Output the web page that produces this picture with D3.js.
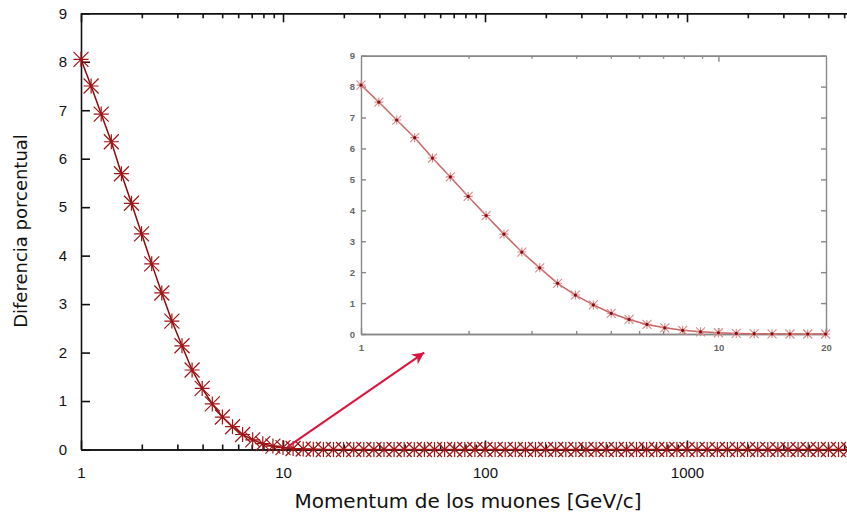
<!DOCTYPE html>
<html>
<head>
<meta charset="utf-8">
<script src="https://cdn.jsdelivr.net/npm/d3@7"></script>
<style>
  body { margin: 0; background: #fff; }
  svg { display: block; font-family: "DejaVu Sans", sans-serif; }
  .main .tick text { font-size: 15px; fill: #111; }
  .main .domain, .main .tick line { stroke: #111; stroke-width: 1.6; }
  .inset .tick text { font-size: 9.5px; font-weight: bold; fill: #666; }
  .inset .domain, .inset .tick line { stroke: #888; stroke-width: 1.4; }
</style>
</head>
<body>
<div id="chart"></div>
<script>
// momentum (GeV/c), 20 points per decade
var momentum = [1, 1.122, 1.259, 1.413, 1.585, 1.778, 1.995, 2.239, 2.512, 2.818,
  3.162, 3.548, 3.981, 4.467, 5.012, 5.623, 6.310, 7.079, 7.943, 8.913,
  10, 11.22, 12.59, 14.13, 15.85, 17.78, 19.95, 22.39, 25.12, 28.18,
  31.62, 35.48, 39.81, 44.67, 50.12, 56.23, 63.10, 70.79, 79.43, 89.13,
  100, 112.2, 125.9, 141.3, 158.5, 177.8, 199.5, 223.9, 251.2, 281.8,
  316.2, 354.8, 398.1, 446.7, 501.2, 562.3, 631.0, 707.9, 794.3, 891.3,
  1000, 1122, 1259, 1413, 1585, 1778, 1995, 2239, 2512, 2818,
  3162, 3548, 3981, 4467, 5012, 5623, 6310];
// diferencia porcentual (%)
var diff = [8.05, 7.50, 6.92, 6.35, 5.69, 5.08, 4.45, 3.83, 3.23, 2.65,
  2.14, 1.64, 1.26, 0.94, 0.67, 0.47, 0.31, 0.20, 0.12, 0.07,
  0.04, 0.02, 0.01, 0.005, 0, 0, 0, 0, 0, 0,
  0, 0, 0, 0, 0, 0, 0, 0, 0, 0,
  0, 0, 0, 0, 0, 0, 0, 0, 0, 0,
  0, 0, 0, 0, 0, 0, 0, 0, 0, 0,
  0, 0, 0, 0, 0, 0, 0, 0, 0, 0,
  0, 0, 0, 0, 0, 0, 0];
var xMajor = [1, 10, 100, 1000];
var yTicks = [0, 1, 2, 3, 4, 5, 6, 7, 8, 9];
var insetXLabels = [1, 10, 20];
var xTitle = 'Momentum de los muones [GeV/c]';
var yTitle = 'Diferencia porcentual';
// arrow from the zoomed region to the inset
var arrowFrom = [10.5, 0.05], arrowTo = [50, 2];

var width = 847, height = 520;
var pts = momentum.map(function(m, i) { return { x: m, y: diff[i] }; });

var minors = [];
xMajor.forEach(function(d) {
  for (var k = 2; k <= 9; k++) minors.push(d * k);
});

var svg = d3.select('#chart').append('svg')
  .attr('width', width)
  .attr('height', height);

// ---- main plot
var x = d3.scaleLog().domain([1, 7000]).range([81, 81 + 202 * Math.log10(7000)]);
var y = d3.scaleLinear().domain([0, 9]).range([449.5, 13.3]);

var main = svg.append('g').attr('class', 'main');

function star(s) {
  return 'M' + (-s) + ',0H' + s + 'M0,' + (-s) + 'V' + s +
    'M' + (-s) + ',' + (-s) + 'L' + s + ',' + s +
    'M' + (-s) + ',' + s + 'L' + s + ',' + (-s);
}

function xAxes(g, sx, sy, major, minor, labels, bigTick, smallTick, pad, top) {
  var inRange = minor.filter(function(d) { return d < sx.domain()[1]; });
  g.append('g')
    .attr('transform', 'translate(0,' + sy.range()[0] + ')')
    .call(d3.axisBottom(sx).tickValues(inRange)
      .tickSize(-smallTick).tickSizeOuter(0).tickFormat(''));
  g.append('g')
    .attr('transform', 'translate(0,' + sy.range()[0] + ')')
    .call(d3.axisBottom(sx).tickValues(major).tickSize(-bigTick).tickSizeOuter(0)
      .tickPadding(pad).tickFormat(function(d) { return labels.indexOf(d) >= 0 ? d : ''; }));
  g.append('g')
    .attr('transform', 'translate(0,' + sy.range()[1] + ')')
    .call(d3.axisTop(sx).tickValues(inRange)
      .tickSize(-smallTick).tickSizeOuter(0).tickFormat(''));
  g.append('g')
    .attr('transform', 'translate(0,' + sy.range()[1] + ')')
    .call(d3.axisTop(sx).tickValues(major.filter(function(d) { return top.indexOf(d) >= 0; }))
      .tickSize(-bigTick).tickSizeOuter(0).tickFormat(''));
}

xAxes(main, x, y, xMajor, minors, xMajor, 9, 5, 18, xMajor);

main.append('g')
  .attr('transform', 'translate(' + x.range()[0] + ',0)')
  .call(d3.axisLeft(y).tickValues(yTicks).tickSize(-9).tickSizeOuter(0).tickPadding(14));

main.append('g')
  .attr('transform', 'translate(' + x.range()[1] + ',0)')
  .call(d3.axisRight(y).tickValues(yTicks).tickSize(-10).tickSizeOuter(0).tickFormat(''));

var line = d3.line()
  .x(function(d) { return x(d.x); })
  .y(function(d) { return y(d.y); });

main.append('path')
  .attr('d', line(pts))
  .attr('fill', 'none')
  .attr('stroke', '#8b0a0a')
  .attr('stroke-width', 1.5);

main.selectAll('path.pt').data(pts).enter().append('path')
  .attr('class', 'pt')
  .attr('transform', function(d) { return 'translate(' + x(d.x) + ',' + y(d.y) + ')'; })
  .attr('d', star(7.5))
  .attr('fill', 'none')
  .attr('stroke', '#a01515')
  .attr('stroke-width', 1.2);

main.append('text')
  .attr('x', 468).attr('y', 508)
  .attr('text-anchor', 'middle')
  .attr('font-size', 20)
  .attr('fill', '#111')
  .text(xTitle);

main.append('text')
  .attr('transform', 'translate(27,231) rotate(-90)')
  .attr('text-anchor', 'middle')
  .attr('font-size', 18)
  .attr('fill', '#111')
  .text(yTitle);

// ---- arrow
var defs = svg.append('defs');
defs.append('marker')
  .attr('id', 'head')
  .attr('viewBox', '0 0 10 10')
  .attr('refX', 10).attr('refY', 5)
  .attr('markerWidth', 7).attr('markerHeight', 6)
  .attr('markerUnits', 'strokeWidth')
  .attr('orient', 'auto')
  .append('path')
  .attr('d', 'M0,0L10,5L0,10L3,5Z')
  .attr('fill', '#dc143c');

svg.append('line')
  .attr('x1', x(arrowFrom[0])).attr('y1', y(arrowFrom[1]))
  .attr('x2', x(arrowTo[0])).attr('y2', y(arrowTo[1]))
  .attr('stroke', '#dc143c')
  .attr('stroke-width', 2)
  .attr('marker-end', 'url(#head)');

// ---- inset (zoom 1 - 20 GeV/c)
var ix = d3.scaleLog().domain([1, 20]).range([361, 826]);
var iy = d3.scaleLinear().domain([0, 9]).range([334, 55.7]);
var inset = svg.append('g').attr('class', 'inset');
var ipts = pts.filter(function(d) { return d.x <= 20; });
var iMinor = [2, 3, 4, 5, 6, 7, 8, 9];

xAxes(inset, ix, iy, [1, 10, 20], iMinor, insetXLabels, 6, 3, 10, [10]);

inset.append('g')
  .attr('transform', 'translate(' + ix.range()[0] + ',0)')
  .call(d3.axisLeft(iy).tickValues(yTicks).tickSize(-5).tickSizeOuter(0).tickPadding(6));
inset.append('g')
  .attr('transform', 'translate(' + ix.range()[1] + ',0)')
  .call(d3.axisRight(iy).tickValues(yTicks).tickSize(-5).tickSizeOuter(0).tickFormat(''));

var iline = d3.line()
  .x(function(d) { return ix(d.x); })
  .y(function(d) { return iy(d.y); });

inset.append('path')
  .attr('d', iline(ipts))
  .attr('fill', 'none')
  .attr('stroke', '#c96565')
  .attr('stroke-width', 1.5);

var ip = inset.selectAll('g.ipt').data(ipts).enter().append('g')
  .attr('class', 'ipt')
  .attr('transform', function(d) { return 'translate(' + ix(d.x) + ',' + iy(d.y) + ')'; });
ip.append('path')
  .attr('d', star(4.5))
  .attr('fill', 'none')
  .attr('stroke', '#d98a8a')
  .attr('stroke-width', 1.1);
ip.append('circle')
  .attr('r', 1.6)
  .attr('fill', '#8b0a0a');
</script>
</body>
</html>
